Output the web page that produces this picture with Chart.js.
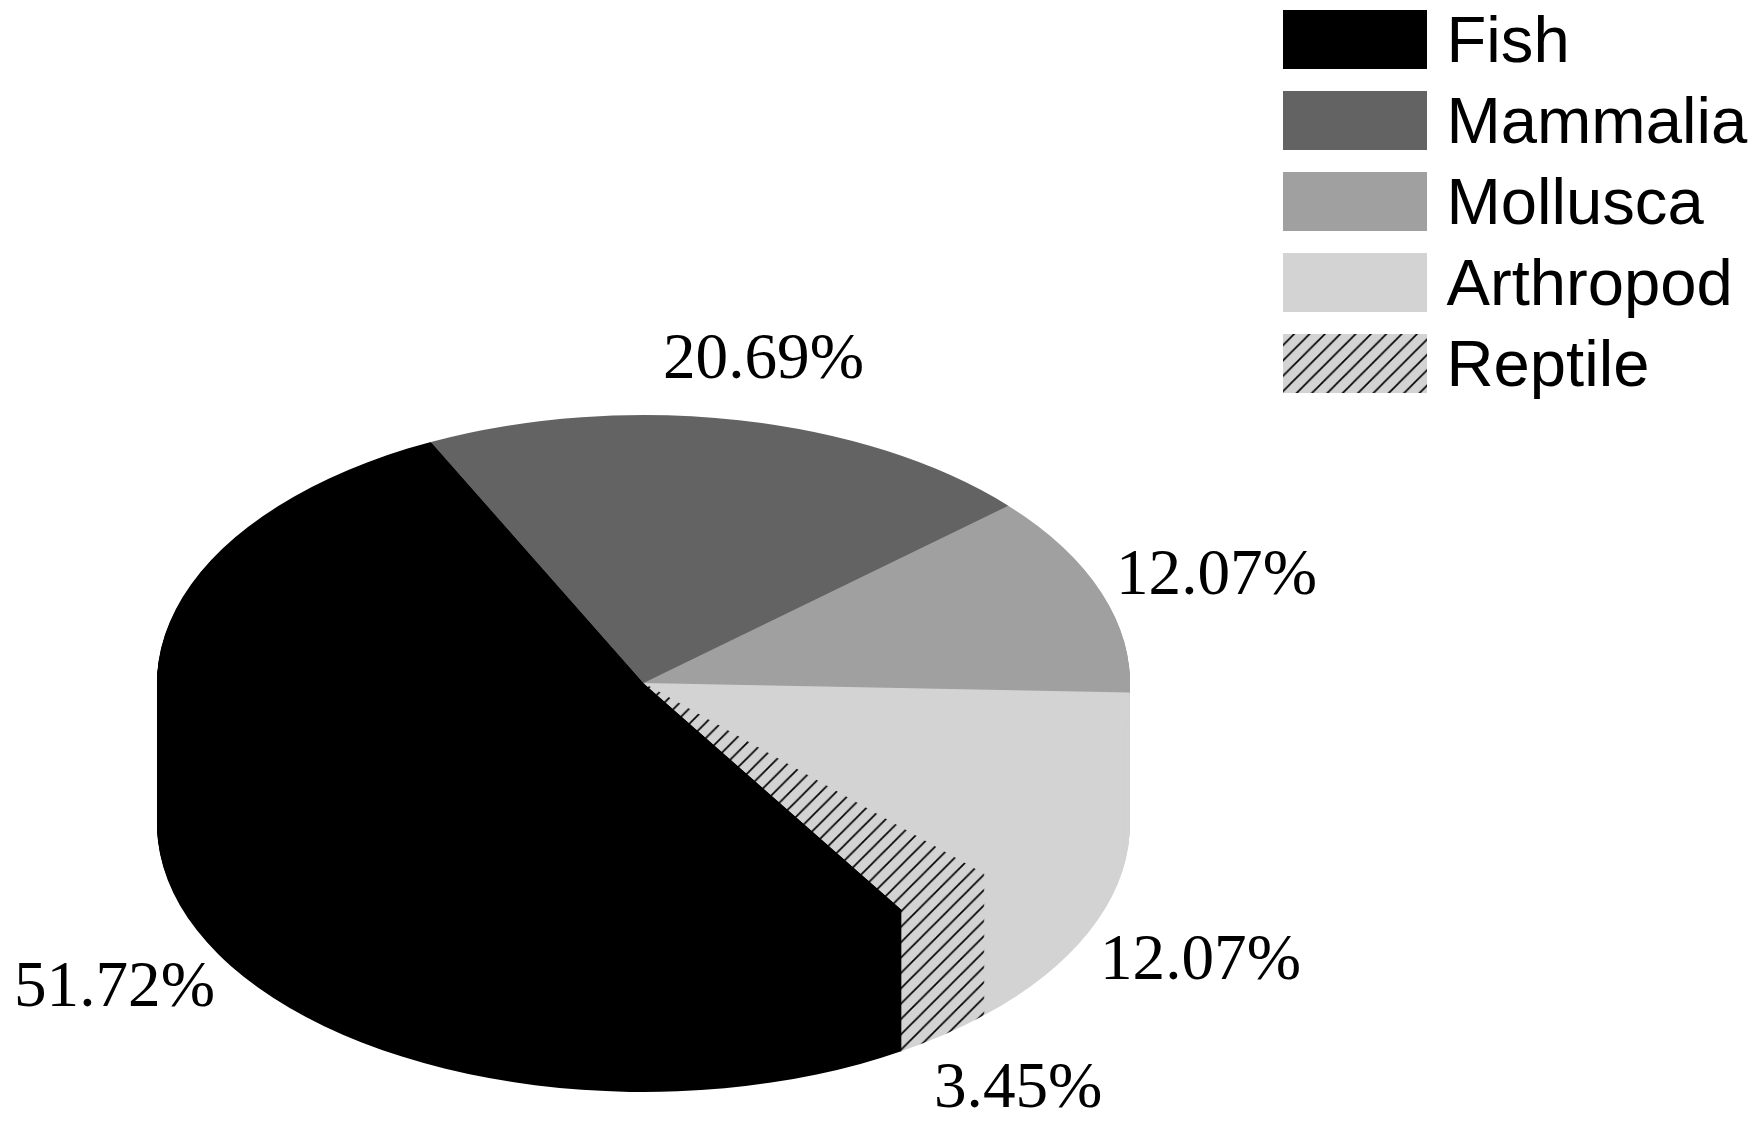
<!DOCTYPE html>
<html>
<head>
<meta charset="utf-8">
<title>Pie</title>
<script src="https://cdn.jsdelivr.net/npm/chart.js@4"></script>
<style>
    html, body { margin: 0; padding: 0; background: #FFFFFF; }
    canvas { display: block; }
</style>
</head>
<body>
<canvas id="pie" width="1757" height="1124"></canvas>
<script>
var categories = ["Fish", "Mammalia", "Mollusca", "Arthropod", "Reptile"];
var shares = [51.72, 20.69, 12.07, 12.07, 3.45];
var greys = ["#000000", "#636363", "#A0A0A0", "#D3D3D3"];

// where the pie sits on the page
var pie = { x: 643.5, y: 683, radius: 486.5, squash: 268 / 486.5, depth: 141, rotation: 147.9 };
var legendBox = { x: 1283, y: 10, width: 144, height: 59, pitch: 81, textX: 1446.5 };
// left end and baseline of the percent labels, same order as categories
var labelX = [14, 663, 1116, 1100, 934];
var labelY = [1006, 378, 594, 979, 1107];

var make_hatch = function(){
    var tile = document.createElement("canvas");
    tile.width = 16;
    tile.height = 16;
    var t = tile.getContext("2d");
    t.fillStyle = "#D3D3D3";
    t.fillRect(0, 0, 16, 16);
    t.strokeStyle = "#000000";
    t.lineWidth = 1.7;
    t.beginPath();
    t.moveTo(-4, 20); t.lineTo(20, -4);
    t.moveTo(-4, 4); t.lineTo(4, -4);
    t.moveTo(12, 20); t.lineTo(20, 12);
    t.stroke();
    return t.createPattern(tile, "repeat");
};
var hatch = make_hatch();

var draw_layer = function(ctx, arcs, drop){
    ctx.save();
    ctx.translate(pie.x, pie.y + drop);
    ctx.scale(1, pie.squash);
    ctx.translate(-arcs[0].x, -arcs[0].y);
    // keep the hatch fixed on the page while the layers move
    hatch.setTransform(ctx.getTransform().inverse().scale(0.96));
    arcs.forEach(function(arc){ arc.draw(ctx); });
    ctx.restore();
};

var disc3d = {
    id: "disc3d",
    beforeDatasetsDraw: function(chart){
        var ctx = chart.ctx;
        var arcs = chart.getDatasetMeta(0).data;
        for (var drop = pie.depth; drop >= 0; drop--){
            draw_layer(ctx, arcs, drop);
        }
        hatch.setTransform(new DOMMatrix().scale(0.96));
        return false;
    },
    afterDraw: function(chart){
        var ctx = chart.ctx;
        ctx.save();
        ctx.textBaseline = "alphabetic";
        ctx.textAlign = "left";
        ctx.fillStyle = "#000000";

        ctx.font = "65.2px 'Liberation Serif'";
        shares.forEach(function(share, i){
            ctx.fillText(share.toFixed(2) + "%", labelX[i], labelY[i]);
        });

        ctx.font = "65.2px 'Liberation Sans'";
        categories.forEach(function(name, i){
            var top = legendBox.y + i * legendBox.pitch;
            ctx.fillStyle = chart.data.datasets[0].backgroundColor[i];
            ctx.fillRect(legendBox.x, top, legendBox.width, legendBox.height);
            ctx.fillStyle = "#000000";
            ctx.fillText(name, legendBox.textX, top + 51.5);
        });
        ctx.restore();
    }
};

new Chart(document.getElementById("pie").getContext("2d"), {
    type: "pie",
    data: {
        labels: categories,
        datasets: [{
            data: shares,
            backgroundColor: greys.concat([hatch]),
            borderWidth: 0
        }]
    },
    options: {
        responsive: false,
        animation: false,
        rotation: pie.rotation,
        radius: pie.radius,
        plugins: {
            legend: { display: false },
            tooltip: { enabled: false }
        }
    },
    plugins: [disc3d]
});
</script>
</body>
</html>
